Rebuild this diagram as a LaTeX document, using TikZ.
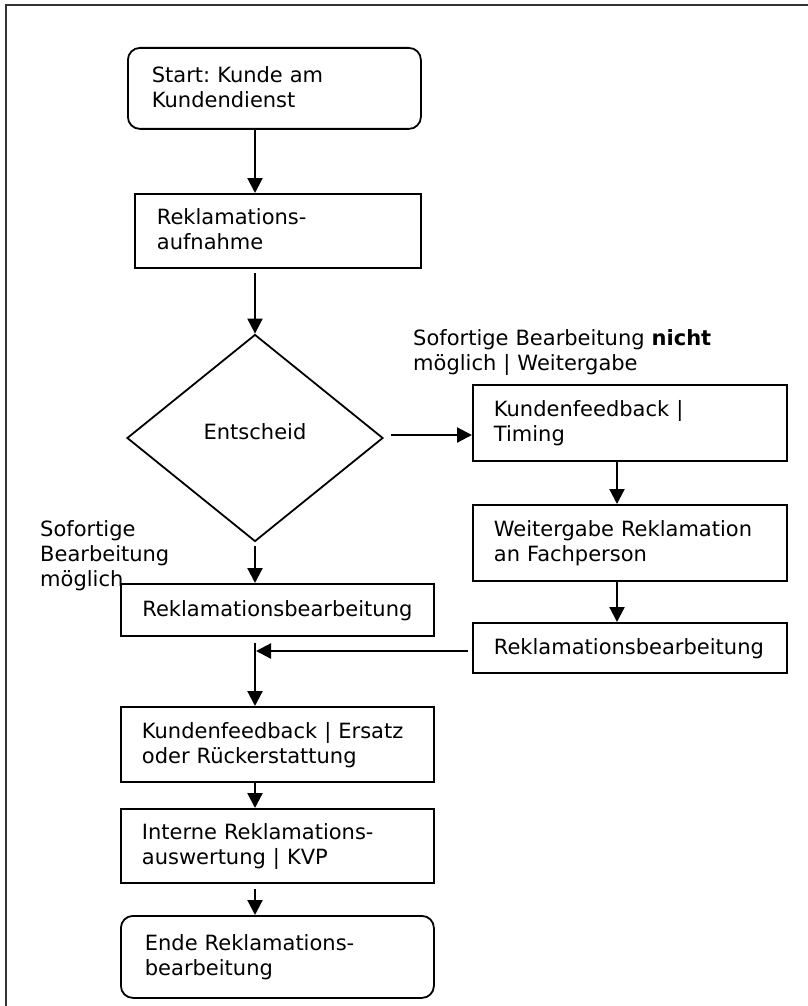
\documentclass[tikz,border=0pt]{standalone}
\usepackage{fontspec}
\setmainfont{DejaVu Sans}
\usetikzlibrary{arrows.meta,shapes.geometric}
\hyphenpenalty=10000
\exhyphenpenalty=10000
\frenchspacing
\newcommand{\diagfont}{\fontsize{21pt}{25pt}\selectfont}
\begin{document}
\begin{tikzpicture}[x=1pt,y=-1pt,
  font=\diagfont,
  box/.style={draw, line width=1.8pt, anchor=north west, inner ysep=0pt, align=left,
              text height=16pt, text depth=28pt},
  oneline/.style={text depth=3pt},
  rbox/.style={box, rounded corners=12pt},
  lbl/.style={anchor=north west, inner sep=0pt, align=left, text height=16pt},
  arr/.style={line width=2.2pt, -{Triangle[length=15pt,width=15pt]}},
  frame/.style={line width=1.8pt, black!80}
]
\useasboundingbox (0,0) rectangle (808,1006);
% outer frame (only top and left edge visible)
\draw[frame] (6,1006) -- (6,5) -- (808,5);

% nodes
\node[rbox, text width=245pt, inner xsep=24pt, minimum height=81pt] (start) at (127,47)
  {Start: Kunde am\\Kundendienst};
\node[box, text width=242pt, inner xsep=22pt, minimum height=74pt] (auf) at (134,193)
  {Reklamations-\\aufnahme};
\node[draw, line width=1.8pt, diamond, minimum width=256pt, minimum height=207pt, inner sep=0pt,
      text height=16pt, text depth=14pt] (dia) at (255,438) {Entscheid};
\node[box, text width=272pt, inner xsep=21pt, minimum height=76pt] (timing) at (472,384)
  {Kundenfeedback |\\Timing};
\node[box, text width=272pt, inner xsep=21pt, minimum height=76pt] (weiter) at (472,504)
  {Weitergabe Reklamation\\an Fachperson};
\node[box, oneline, text width=272pt, inner xsep=21pt, minimum height=50pt] (rright) at (472,622)
  {Reklamationsbearbeitung};
\node[box, oneline, text width=270pt, inner xsep=21.5pt, minimum height=52pt] (rleft) at (120,583)
  {Reklamationsbearbeitung};
\node[box, text width=271pt, inner xsep=21pt, minimum height=75pt] (ersatz) at (120,706)
  {Kundenfeedback | Ersatz\\oder Rückerstattung};
\node[box, text width=271pt, inner xsep=21pt, minimum height=74pt] (interne) at (120,808)
  {Interne Reklamations-\\auswertung | KVP};
\node[rbox, text width=265pt, inner xsep=24pt, minimum height=82pt] (ende) at (120,915)
  {Ende Reklamations-\\bearbeitung};

% labels
\node[lbl, text width=380pt] (lblnicht) at (413,329)
  {Sofortige Bearbeitung \textbf{nicht}\\möglich | Weitergabe};
\node[lbl, text width=200pt] (lblja) at (40,520)
  {Sofortige\\Bearbeitung\\möglich};

% helper coordinates
\coordinate (rx) at (617,0);
\coordinate (h1) at (391,435);
\coordinate (j) at (255,651);

% connectors
\draw[arr] (start.south -| dia) -- (auf.north -| dia);
\draw[arr] ([yshift=-4pt]auf.south -| dia) -- (dia.north);
\draw[arr] (h1) -- (h1 -| timing.west);
\draw[arr] (timing.south -| rx) -- (weiter.north -| rx);
\draw[arr] (weiter.south -| rx) -- (rright.north -| rx);
\draw[arr] ([yshift=-4pt]dia.south) -- (rleft.north -| dia);
\draw[arr] ([xshift=-4pt]rright.west |- j) -- ([xshift=1pt]j);
\draw[arr] ([yshift=-6pt]rleft.south -| dia) -- (ersatz.north -| dia);
\draw[arr] (ersatz.south -| dia) -- (interne.north -| dia);
\draw[arr] ([yshift=-5pt]interne.south -| dia) -- (ende.north -| dia);
\end{tikzpicture}
\end{document}
